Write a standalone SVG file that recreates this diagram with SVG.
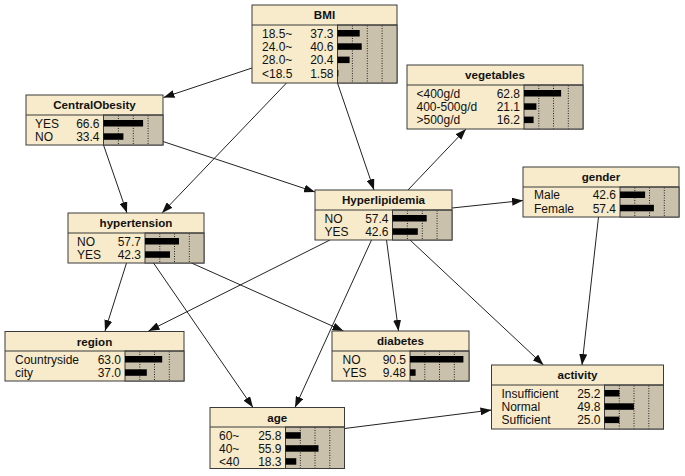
<svg xmlns="http://www.w3.org/2000/svg" width="685" height="476" viewBox="0 0 685 476">
<style>
.box{fill:#F7EBCB;stroke:#3a3a3a;stroke-width:1}
.bg{fill:#CAC1AC;stroke:#3a3a3a;stroke-width:1}
.sep{stroke:#3a3a3a;stroke-width:1}
.grid{stroke:#222;stroke-width:1;stroke-dasharray:1,1.5}
.bar{fill:#000}
text{font-family:"Liberation Sans",Arial,sans-serif;font-size:12px;fill:#111}
.title{font-weight:bold;font-size:11.6px;text-anchor:middle}
.num{text-anchor:end}
.edge{stroke:#222;stroke-width:1;fill:none;marker-end:url(#arr)}
</style>
<defs>
<marker id="arr" markerWidth="11" markerHeight="8" refX="11" refY="4" orient="auto" markerUnits="userSpaceOnUse"><path d="M0,0 L11,4 L0,8 z" fill="#111"/></marker>
</defs>
<rect width="685" height="476" fill="#fff"/>
<g id="connectors">
<line class="edge" x1="252" y1="68" x2="163.5" y2="97.5"/>
<line class="edge" x1="286.5" y1="83" x2="162" y2="213"/>
<line class="edge" x1="337.5" y1="83" x2="374" y2="190"/>
<line class="edge" x1="103.5" y1="145" x2="127" y2="213"/>
<line class="edge" x1="163" y1="141.5" x2="315" y2="192"/>
<line class="edge" x1="408" y1="190" x2="466" y2="129"/>
<line class="edge" x1="452" y1="208" x2="523" y2="200.5"/>
<line class="edge" x1="330" y1="240" x2="148.5" y2="331"/>
<line class="edge" x1="386.5" y1="240" x2="398.5" y2="331"/>
<line class="edge" x1="371.5" y1="240" x2="295" y2="407.5"/>
<line class="edge" x1="410" y1="240" x2="543.5" y2="365"/>
<line class="edge" x1="126.5" y1="263" x2="105" y2="331"/>
<line class="edge" x1="191.5" y1="263" x2="343.5" y2="331"/>
<line class="edge" x1="153.5" y1="263" x2="253" y2="407.5"/>
<line class="edge" x1="598.5" y1="217" x2="582" y2="365"/>
<line class="edge" x1="344.5" y1="428.5" x2="491.5" y2="410"/>
</g>
<g id="BMI">
<rect class="box" x="252" y="5" width="145" height="78"/>
<rect class="bg" x="337.5" y="25" width="59.5" height="58"/>
<line class="grid" x1="352.4" y1="25.5" x2="352.4" y2="82.5"/>
<line class="grid" x1="367.3" y1="25.5" x2="367.3" y2="82.5"/>
<line class="grid" x1="382.1" y1="25.5" x2="382.1" y2="82.5"/>
<line class="sep" x1="252" y1="25" x2="397" y2="25"/>
<text class="title" x="324.5" y="19">BMI</text>
<text x="262" y="37.8">18.5~</text><text class="num" x="333.5" y="37.8">37.3</text><rect class="bar" x="337.5" y="30" width="22.2" height="6.5"/>
<text x="262" y="51.1">24.0~</text><text class="num" x="333.5" y="51.1">40.6</text><rect class="bar" x="337.5" y="43.3" width="24.2" height="6.5"/>
<text x="262" y="64.4">28.0~</text><text class="num" x="333.5" y="64.4">20.4</text><rect class="bar" x="337.5" y="56.6" width="12.1" height="6.5"/>
<text x="262" y="77.7">&lt;18.5</text><text class="num" x="333.5" y="77.7">1.58</text><rect class="bar" x="337.5" y="69.9" width="0.9" height="6.5"/>
</g>
<g id="CentralObesity">
<rect class="box" x="26" y="95" width="137" height="50"/>
<rect class="bg" x="103.5" y="115" width="59.5" height="30"/>
<line class="grid" x1="118.4" y1="115.5" x2="118.4" y2="144.5"/>
<line class="grid" x1="133.3" y1="115.5" x2="133.3" y2="144.5"/>
<line class="grid" x1="148.1" y1="115.5" x2="148.1" y2="144.5"/>
<line class="sep" x1="26" y1="115" x2="163" y2="115"/>
<text class="title" x="94.5" y="109">CentralObesity</text>
<text x="35" y="127.8">YES</text><text class="num" x="99.5" y="127.8">66.6</text><rect class="bar" x="103.5" y="120" width="39.6" height="6.5"/>
<text x="35" y="141.1">NO</text><text class="num" x="99.5" y="141.1">33.4</text><rect class="bar" x="103.5" y="133.3" width="19.9" height="6.5"/>
</g>
<g id="vegetables">
<rect class="box" x="407" y="65" width="176" height="64"/>
<rect class="bg" x="524" y="85" width="59" height="44"/>
<line class="grid" x1="538.8" y1="85.5" x2="538.8" y2="128.5"/>
<line class="grid" x1="553.5" y1="85.5" x2="553.5" y2="128.5"/>
<line class="grid" x1="568.3" y1="85.5" x2="568.3" y2="128.5"/>
<line class="sep" x1="407" y1="85" x2="583" y2="85"/>
<text class="title" x="495" y="79">vegetables</text>
<text x="416.5" y="97.8">&lt;400g/d</text><text class="num" x="520" y="97.8">62.8</text><rect class="bar" x="524" y="90" width="37.1" height="6.5"/>
<text x="416.5" y="111.1">400-500g/d</text><text class="num" x="520" y="111.1">21.1</text><rect class="bar" x="524" y="103.3" width="12.4" height="6.5"/>
<text x="416.5" y="124.4">&gt;500g/d</text><text class="num" x="520" y="124.4">16.2</text><rect class="bar" x="524" y="116.6" width="9.6" height="6.5"/>
</g>
<g id="Hyperlipidemia">
<rect class="box" x="315" y="190" width="137" height="50"/>
<rect class="bg" x="392.5" y="210" width="59.5" height="30"/>
<line class="grid" x1="407.4" y1="210.5" x2="407.4" y2="239.5"/>
<line class="grid" x1="422.3" y1="210.5" x2="422.3" y2="239.5"/>
<line class="grid" x1="437.1" y1="210.5" x2="437.1" y2="239.5"/>
<line class="sep" x1="315" y1="210" x2="452" y2="210"/>
<text class="title" x="383.5" y="204">Hyperlipidemia</text>
<text x="324.5" y="222.8">NO</text><text class="num" x="388.5" y="222.8">57.4</text><rect class="bar" x="392.5" y="215" width="34.2" height="6.5"/>
<text x="324.5" y="236.1">YES</text><text class="num" x="388.5" y="236.1">42.6</text><rect class="bar" x="392.5" y="228.3" width="25.3" height="6.5"/>
</g>
<g id="gender">
<rect class="box" x="523" y="167" width="156" height="50"/>
<rect class="bg" x="620" y="187" width="59" height="30"/>
<line class="grid" x1="634.8" y1="187.5" x2="634.8" y2="216.5"/>
<line class="grid" x1="649.5" y1="187.5" x2="649.5" y2="216.5"/>
<line class="grid" x1="664.3" y1="187.5" x2="664.3" y2="216.5"/>
<line class="sep" x1="523" y1="187" x2="679" y2="187"/>
<text class="title" x="601" y="181">gender</text>
<text x="534" y="199.3">Male</text><text class="num" x="616" y="199.3">42.6</text><rect class="bar" x="620" y="191.5" width="25.1" height="6.5"/>
<text x="534" y="212.6">Female</text><text class="num" x="616" y="212.6">57.4</text><rect class="bar" x="620" y="204.8" width="33.9" height="6.5"/>
</g>
<g id="hypertension">
<rect class="box" x="68" y="213" width="136" height="50"/>
<rect class="bg" x="145" y="233" width="59" height="30"/>
<line class="grid" x1="159.8" y1="233.5" x2="159.8" y2="262.5"/>
<line class="grid" x1="174.5" y1="233.5" x2="174.5" y2="262.5"/>
<line class="grid" x1="189.3" y1="233.5" x2="189.3" y2="262.5"/>
<line class="sep" x1="68" y1="233" x2="204" y2="233"/>
<text class="title" x="136" y="227">hypertension</text>
<text x="77" y="245.8">NO</text><text class="num" x="141" y="245.8">57.7</text><rect class="bar" x="145" y="238" width="34" height="6.5"/>
<text x="77" y="259.1">YES</text><text class="num" x="141" y="259.1">42.3</text><rect class="bar" x="145" y="251.3" width="25" height="6.5"/>
</g>
<g id="region">
<rect class="box" x="5" y="331.5" width="179" height="49.5"/>
<rect class="bg" x="125" y="351" width="59" height="30"/>
<line class="grid" x1="139.8" y1="351.5" x2="139.8" y2="380.5"/>
<line class="grid" x1="154.5" y1="351.5" x2="154.5" y2="380.5"/>
<line class="grid" x1="169.3" y1="351.5" x2="169.3" y2="380.5"/>
<line class="sep" x1="5" y1="351" x2="184" y2="351"/>
<text class="title" x="94.5" y="345.5">region</text>
<text x="15" y="363.8">Countryside</text><text class="num" x="121" y="363.8">63.0</text><rect class="bar" x="125" y="356" width="37.2" height="6.5"/>
<text x="15" y="377.1">city</text><text class="num" x="121" y="377.1">37.0</text><rect class="bar" x="125" y="369.3" width="21.8" height="6.5"/>
</g>
<g id="diabetes">
<rect class="box" x="332" y="331" width="137" height="50"/>
<rect class="bg" x="410" y="351" width="59" height="30"/>
<line class="grid" x1="424.8" y1="351.5" x2="424.8" y2="380.5"/>
<line class="grid" x1="439.5" y1="351.5" x2="439.5" y2="380.5"/>
<line class="grid" x1="454.3" y1="351.5" x2="454.3" y2="380.5"/>
<line class="sep" x1="332" y1="351" x2="469" y2="351"/>
<text class="title" x="400.5" y="345">diabetes</text>
<text x="342.5" y="363.8">NO</text><text class="num" x="406" y="363.8">90.5</text><rect class="bar" x="410" y="356" width="53.4" height="6.5"/>
<text x="342.5" y="377.1">YES</text><text class="num" x="406" y="377.1">9.48</text><rect class="bar" x="410" y="369.3" width="5.6" height="6.5"/>
</g>
<g id="activity">
<rect class="box" x="491.5" y="365" width="172" height="64"/>
<rect class="bg" x="604.5" y="385" width="59" height="44"/>
<line class="grid" x1="619.3" y1="385.5" x2="619.3" y2="428.5"/>
<line class="grid" x1="634" y1="385.5" x2="634" y2="428.5"/>
<line class="grid" x1="648.8" y1="385.5" x2="648.8" y2="428.5"/>
<line class="sep" x1="491.5" y1="385" x2="663.5" y2="385"/>
<text class="title" x="577.5" y="379">activity</text>
<text x="501.5" y="397.8">Insufficient</text><text class="num" x="600.5" y="397.8">25.2</text><rect class="bar" x="604.5" y="390" width="14.9" height="6.5"/>
<text x="501.5" y="411.1">Normal</text><text class="num" x="600.5" y="411.1">49.8</text><rect class="bar" x="604.5" y="403.3" width="29.4" height="6.5"/>
<text x="501.5" y="424.4">Sufficient</text><text class="num" x="600.5" y="424.4">25.0</text><rect class="bar" x="604.5" y="416.6" width="14.8" height="6.5"/>
</g>
<g id="age">
<rect class="box" x="210" y="407.5" width="134.5" height="61"/>
<rect class="bg" x="285.5" y="427" width="59" height="41.5"/>
<line class="grid" x1="300.3" y1="427.5" x2="300.3" y2="468"/>
<line class="grid" x1="315" y1="427.5" x2="315" y2="468"/>
<line class="grid" x1="329.8" y1="427.5" x2="329.8" y2="468"/>
<line class="sep" x1="210" y1="427" x2="344.5" y2="427"/>
<text class="title" x="277.25" y="421.5">age</text>
<text x="219" y="440">60~</text><text class="num" x="281.5" y="440">25.8</text><rect class="bar" x="285.5" y="432.2" width="15.2" height="6.5"/>
<text x="219" y="453">40~</text><text class="num" x="281.5" y="453">55.9</text><rect class="bar" x="285.5" y="445.2" width="33" height="6.5"/>
<text x="219" y="466">&lt;40</text><text class="num" x="281.5" y="466">18.3</text><rect class="bar" x="285.5" y="458.2" width="10.8" height="6.5"/>
</g>
</svg>
